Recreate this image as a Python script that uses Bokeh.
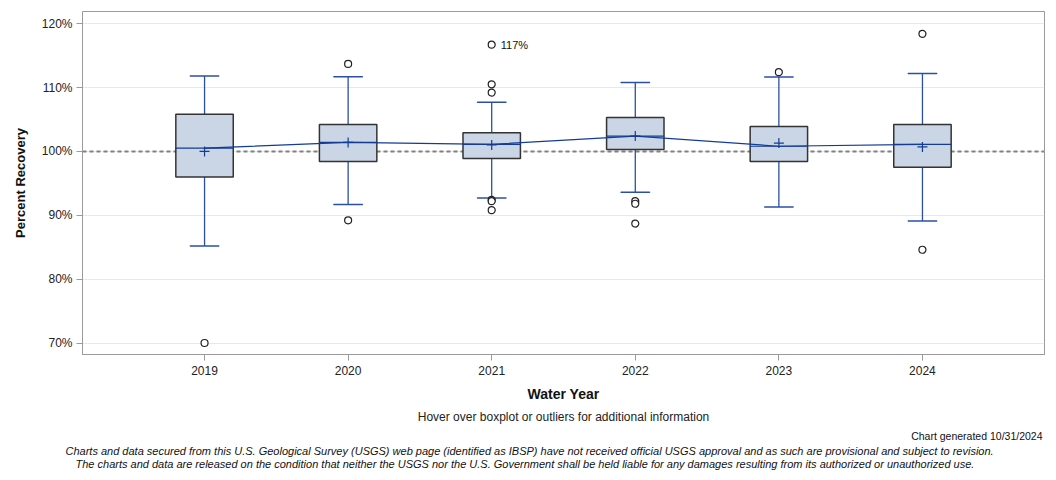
from bokeh.plotting import figure
from bokeh.models import Range1d, FixedTicker, PrintfTickFormatter, Title, ColumnDataSource
from bokeh.core.properties import value
from bokeh.embed import file_html
from bokeh.resources import INLINE

years = [2019, 2020, 2021, 2022, 2023, 2024]
whisker_low = [85.2, 91.7, 92.7, 93.6, 91.3, 89.1]
q1 = [96.0, 98.4, 98.9, 100.3, 98.4, 97.5]
median = [100.5, 101.4, 101.1, 102.4, 100.8, 101.1]
q3 = [105.8, 104.2, 102.9, 105.3, 103.9, 104.2]
whisker_high = [111.8, 111.7, 107.7, 110.8, 111.65, 112.2]
mean = [100.0, 101.4, 101.0, 102.4, 101.3, 100.7]

outlier_year = [2019, 2020, 2020, 2021, 2021, 2021, 2021, 2021, 2021,
                2022, 2022, 2022, 2023, 2024, 2024]
outlier_value = [70.0, 113.7, 89.2, 116.7, 110.5, 109.2, 92.4, 92.2, 90.8,
                 92.2, 91.8, 88.7, 112.4, 118.4, 84.6]

label_year = [2021]
label_value = [116.7]
label_text = ["117%"]

y_ticks = [70, 80, 90, 100, 110, 120]

FONT = "Liberation Sans"
BLUE = "#2a4fa8"
DARK = "#123c96"

p = figure(width=1056, height=480, output_backend="svg", toolbar_location=None,
           x_range=Range1d(2019 - 0.85, 2024 + 0.85), y_range=Range1d(68.2, 121.9),
           min_border_left=82, min_border_right=12, min_border_top=11, min_border_bottom=126)
p.background_fill_color = "white"
p.border_fill_color = "white"
p.outline_line_color = "#9a9a9a"
p.outline_line_width = 1

# grid
p.xgrid.grid_line_color = None
p.ygrid.grid_line_color = "#e8e8e8"
p.ygrid.grid_line_width = 1
p.ygrid.ticker = FixedTicker(ticks=y_ticks)

# axes
p.yaxis.ticker = FixedTicker(ticks=y_ticks)
p.yaxis.formatter = PrintfTickFormatter(format="%d%%")
p.yaxis.axis_label = "Percent Recovery"
p.xaxis.ticker = FixedTicker(ticks=years)
p.xaxis.major_label_overrides = {y: str(y) for y in years}
p.xaxis.axis_label = "Water Year"
for ax in (p.xaxis, p.yaxis):
    ax.axis_line_color = "#9a9a9a"
    ax.major_tick_line_color = "#9a9a9a"
    ax.major_tick_in = 0
    ax.major_tick_out = 6
    ax.minor_tick_line_color = None
    ax.major_label_text_font = FONT
    ax.major_label_text_font_size = "12px"
    ax.major_label_text_color = "#222222"
    ax.axis_label_text_font = FONT
    ax.axis_label_text_font_style = "bold"
    ax.axis_label_text_color = "#111111"
p.xaxis.axis_label_text_font_size = "14px"
p.yaxis.axis_label_text_font_size = "13px"
p.xaxis.major_label_standoff = 5
p.xaxis.axis_label_standoff = 8
p.yaxis.major_label_standoff = 4
p.yaxis.axis_label_standoff = 11

# reference line at 100%
p.line(x=[2019 - 0.85, 2024 + 0.85], y=[100, 100], line_color="#808080",
       line_width=2, line_dash="4 3")

src = ColumnDataSource(dict(x=years, lo=whisker_low, q1=q1, med=median, q3=q3,
                            hi=whisker_high, mean=mean))

# whiskers
p.segment(x0="x", y0="q3", x1="x", y1="hi", source=src, line_color=BLUE, line_width=1.3)
p.segment(x0="x", y0="lo", x1="x", y1="q1", source=src, line_color=BLUE, line_width=1.3)
p.rect(x="x", y="hi", width=0.2, height=0.0001, source=src, line_color=BLUE,
       line_width=1.5, fill_color=None)
p.rect(x="x", y="lo", width=0.2, height=0.0001, source=src, line_color=BLUE,
       line_width=1.5, fill_color=None)

# boxes
p.vbar(x="x", width=0.4, bottom="q1", top="q3", source=src, fill_color="#cad5e5",
       line_color="#333333", line_width=1.5)
# median segments
p.rect(x="x", y="med", width=0.4, height=0.0001, source=src, line_color=DARK,
       line_width=1.2, fill_color=None)
# connecting line through medians
p.line(x="x", y="med", source=src, line_color=DARK, line_width=1.2)
# means
p.scatter(x="x", y="mean", source=src, marker="cross", size=10, line_color=DARK,
          line_width=1.2)

# outliers
p.scatter(x=outlier_year, y=outlier_value, marker="circle", size=7,
          fill_color="white", line_color="#222222", line_width=1.2)
p.text(x=label_year, y=label_value, text=label_text, x_offset=9,
       text_font=value(FONT), text_font_size="11px", text_baseline="middle",
       text_color="#111111")

# bottom texts
t1 = Title(text="Hover over boxplot or outliers for additional information",
           align="center", text_font=FONT, text_font_size="12px",
           text_font_style="normal", text_color="#222222", standoff=6)
p.add_layout(t1, "below")
t2 = Title(text="Chart generated 10/31/2024", align="right", text_font=FONT,
           text_font_size="10.5px", text_font_style="normal", text_color="#111111",
           standoff=2, offset=2)
p.add_layout(t2, "below")
t3 = Title(text="Charts and data secured from this U.S. Geological Survey (USGS) web page (identified as IBSP) have not received official USGS approval and as such are provisional and subject to revision.",
           align="left", text_font=FONT, text_font_size="11px",
           text_font_style="italic", text_color="#111111", standoff=1, offset=-17)
p.add_layout(t3, "below")
t4 = Title(text="The charts and data are released on the condition that neither the USGS nor the U.S. Government shall be held liable for any damages resulting from its authorized or unauthorized use.",
           align="left", text_font=FONT, text_font_size="11px",
           text_font_style="italic", text_color="#111111", standoff=-3, offset=-7)
p.add_layout(t4, "below")

open("out.html", "w").write(file_html(p, INLINE))
